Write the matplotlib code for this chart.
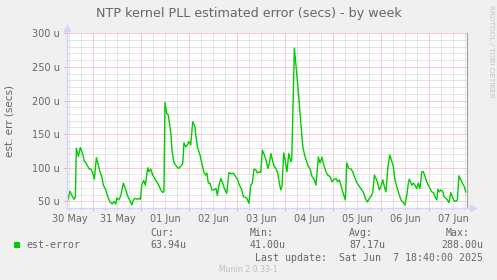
import matplotlib
matplotlib.use("Agg")
import matplotlib.pyplot as plt
from matplotlib.ticker import FixedLocator, NullFormatter
import matplotlib.transforms as mtransforms

# ---- data: hours since 2025-05-30 00:00, value in micro-seconds ----
hours = [11.0, 12.3, 13.2, 14.3, 15.0, 15.5, 16.5, 17.5, 18.7, 19.5, 20.3, 21.2, 22.0, 22.8,
         23.7, 24.5, 25.5, 26.5, 27.3, 28.2, 29.0, 30.2, 31.2, 32.3, 33.5, 34.3, 35.2, 35.7,
         36.7, 37.7, 39.0, 40.0, 41.0, 42.3, 43.3, 44.0, 44.8, 46.0, 47.0, 47.5, 48.2, 49.2,
         50.0, 51.2, 51.8, 52.7, 53.7, 54.7, 55.7, 56.7, 57.7, 58.7, 59.3, 59.8, 60.7, 61.5,
         62.3, 62.8, 63.3, 64.3, 65.7, 66.8, 68.2, 68.7, 69.3, 70.2, 71.0, 71.8, 72.7, 73.3,
         73.7, 74.8, 75.2, 76.0, 77.3, 78.2, 79.3, 80.2, 80.7, 81.5, 82.3, 83.3, 84.3, 85.3,
         86.0, 86.8, 87.7, 88.7, 89.5, 90.7, 91.8, 92.8, 94.0, 95.0, 96.0, 97.0, 98.0, 99.0,
         100.0, 100.7, 101.8, 102.7, 103.5, 104.3, 105.2, 106.0, 106.8, 107.7, 108.5, 109.5,
         110.3, 111.3, 112.0, 112.8, 113.7, 114.5, 115.3, 116.2, 117.0, 117.7, 118.3, 119.2,
         120.0, 120.8, 121.7, 122.7, 123.2, 124.5, 126.5, 128.0, 128.8, 129.7, 130.7, 131.5,
         132.3, 133.3, 134.5, 135.3, 136.5, 137.3, 138.3, 139.2, 140.3, 141.2, 142.3, 143.3,
         144.2, 145.3, 146.2, 147.0, 147.8, 148.7, 150.0, 150.7, 151.7, 152.8, 153.7, 154.5,
         155.7, 157.0, 158.2, 159.2, 160.0, 161.0, 162.0, 162.8, 163.7, 164.5, 165.3, 166.2,
         167.0, 167.8, 168.7, 169.5, 170.3, 171.3, 172.2, 173.0, 174.0, 174.8, 175.7, 176.7,
         177.8, 179.0, 179.8, 180.7, 181.5, 182.0, 183.2, 184.0, 184.8, 185.7, 186.5, 187.3,
         188.2, 189.0, 189.8, 190.7, 191.5, 192.3, 193.2, 194.0, 194.8, 195.7, 196.3, 197.0,
         197.8, 198.7, 199.3, 200.3, 201.0, 201.8, 202.7, 203.5, 204.3, 205.2, 206.0, 206.8,
         207.7, 208.5, 209.3, 210.2]
est_error = [49, 65, 59, 53, 56, 129, 117, 130, 120, 110, 107, 102, 98, 98,
             92, 83, 115, 104, 94, 87, 74, 67, 57, 49, 46, 50, 46, 55,
             52, 58, 77, 69, 59, 51, 44.5, 52, 54.5, 53, 54.5, 53, 74, 81,
             74, 100, 94, 98, 89, 84, 79, 74, 67, 63, 65, 197, 181, 178,
             161, 149, 126, 107.5, 101.5, 99, 104, 106.6, 137, 131, 134, 139, 134, 156,
             168.5, 161, 149, 131, 119, 107, 93, 89, 92, 77, 77, 67, 67, 69,
             59, 74, 84, 77, 69, 62, 93, 91, 92, 87, 83, 74, 69, 57,
             56, 55, 47, 74, 77, 98, 97, 92, 94, 93, 126, 119,
             111.5, 99, 107, 121, 109, 101.5, 99, 92, 77, 67, 72, 122,
             109, 94, 121, 109, 111.5, 278, 213, 156, 130, 118, 109, 101.5,
             99, 87, 82, 74, 116, 107, 115.5, 104, 94, 89, 87, 79,
             82, 84, 79, 82, 74, 64, 52, 107, 99, 98, 94, 87,
             78, 72, 67, 62, 54.5, 49, 54.5, 57, 63, 89, 84, 77,
             67, 72, 82, 72, 64, 101.5, 119, 111.5, 101.5, 82, 72, 62,
             52, 48, 44.5, 59, 77, 83, 74, 77, 74, 69, 77, 69,
             94, 94, 87, 79, 74, 69, 64, 63, 57, 52, 68, 64,
             67, 65, 57, 54.5, 52, 48, 63, 57, 51, 50, 52, 88,
             82, 77, 73, 64]

day_labels = ["30 May", "31 May", "01 Jun", "02 Jun", "03 Jun", "04 Jun", "05 Jun", "06 Jun", "07 Jun"]
y_major = [50, 100, 150, 200, 250, 300]
x_start, x_end = 10.67, 210.67
y_min, y_max = 39.6, 300

legend_name = "est-error"
stat_names = ["Cur:", "Min:", "Avg:", "Max:"]
stat_values = ["63.94u", "41.00u", "87.17u", "288.00u"]
last_update = "Last update:  Sat Jun  7 18:40:00 2025"

# ---- style ----
W, H = 497, 280
LINE = "#00cc00"
FONT = "#666666"
AXISC = "#CFD6F8"
MGRID = "#f2a0a0"
GRID = "#cccccc"

fig = plt.figure(figsize=(W / 100, H / 100), dpi=100, facecolor="#f0f0f0")
L, R, T, B = 66.7, 466.7, 33.3, 208.3
ax = fig.add_axes([L / W, 1 - B / H, (R - L) / W, (B - T) / H])
ax.set_facecolor("white")
ax.set_xlim(x_start, x_end)
ax.set_ylim(y_min, y_max)

# grids
ax.xaxis.set_major_locator(FixedLocator([24 * i for i in range(1, 9)]))
ax.xaxis.set_minor_locator(FixedLocator([6 * i for i in range(0, 36) if i % 4]))
ax.yaxis.set_major_locator(FixedLocator(y_major))
ax.yaxis.set_minor_locator(FixedLocator([v for v in range(40, 301, 10) if v % 50]))
ax.xaxis.set_major_formatter(NullFormatter())
ax.set_yticklabels([f"{v} u" for v in y_major])
ax.grid(True, which="minor", color=GRID, linestyle=(0, (1, 1)), linewidth=0.72)
ax.grid(True, which="major", color=MGRID, linestyle=(0, (1, 1)), linewidth=0.72)
ax.set_axisbelow(True)

ax.tick_params(axis="x", which="major", colors=MGRID, length=2.5, width=0.72, direction="out")
ax.tick_params(axis="x", which="minor", colors="#c8c8c8", length=1.5, width=0.72, direction="out")
ax.tick_params(axis="y", which="major", colors=MGRID, length=2, width=0.72, direction="out",
               labelcolor=FONT, labelsize=7, pad=3)
ax.tick_params(axis="y", which="minor", length=0)

ax.spines["top"].set_visible(False)
ax.spines["right"].set_color("#a0a0a0")
ax.spines["right"].set_linewidth(0.8)
for s in ["left", "bottom"]:
    ax.spines[s].set_color(AXISC)
    ax.spines[s].set_linewidth(1.0)

# arrows
ax.plot([0], [1.03], marker="^", color=AXISC, markersize=4, transform=ax.transAxes, clip_on=False)
ax.plot([1.015], [0], marker=">", color=AXISC, markersize=4, transform=ax.transAxes, clip_on=False)
ax.plot([1, 1.015], [0, 0], color=AXISC, lw=1.0, transform=ax.transAxes, clip_on=False)

# the data
ax.plot(hours, est_error, color=LINE, linewidth=1.0, solid_joinstyle="round")

# x labels at noon
tr = mtransforms.blended_transform_factory(ax.transData, ax.transAxes)
for i, lab in enumerate(day_labels):
    ax.text(12 + 24 * i, -0.035, lab, transform=tr, ha="center", va="top", fontsize=7, color=FONT)

ax.set_ylabel("est. err (secs)", fontsize=7.5, color=FONT)
ax.yaxis.set_label_coords(-52 / (R - L), 0.5)

fig.text(249 / W, 1 - 13 / H, "NTP kernel PLL estimated error (secs) - by week", ha="center", va="center",
         fontsize=9.2, color=FONT)
fig.text(491 / W, 1 - 5 / H, "RRDTOOL / TOBI OETIKER", rotation=270, ha="center", va="top",
         fontsize=5.2, color="#c4c4c4")

# legend
mono = "DejaVu Sans Mono"
fig.patches.append(plt.Rectangle((14 / W, 1 - 247.7 / H), 6 / W, 5.5 / H, transform=fig.transFigure,
                                 facecolor=LINE, edgecolor="none"))
fig.text(26.7 / W, 1 - 245.5 / H, legend_name, ha="left", va="center", fontsize=7.1, family=mono, color=FONT)
stat_x = [150, 250, 349]
for x, n, v in zip(stat_x, stat_names[:3], stat_values[:3]):
    fig.text(x / W, 1 - 233 / H, n, ha="left", va="center", fontsize=7.1, family=mono, color=FONT)
    fig.text(x / W, 1 - 245.5 / H, v, ha="left", va="center", fontsize=7.1, family=mono, color=FONT)
fig.text(470 / W, 1 - 233 / H, stat_names[3], ha="right", va="center", fontsize=7.1, family=mono, color=FONT)
fig.text(483.3 / W, 1 - 245.5 / H, stat_values[3], ha="right", va="center", fontsize=7.1, family=mono, color=FONT)
fig.text(483.3 / W, 1 - 257.7 / H, last_update, ha="right", va="center", fontsize=7.1, family=mono, color=FONT)
fig.text(248 / W, 1 - 269 / H, "Munin 2.0.33-1", ha="center", va="center", fontsize=5.6, color="#bdbdbd")

fig.savefig("out.png", dpi=100, facecolor=fig.get_facecolor())
